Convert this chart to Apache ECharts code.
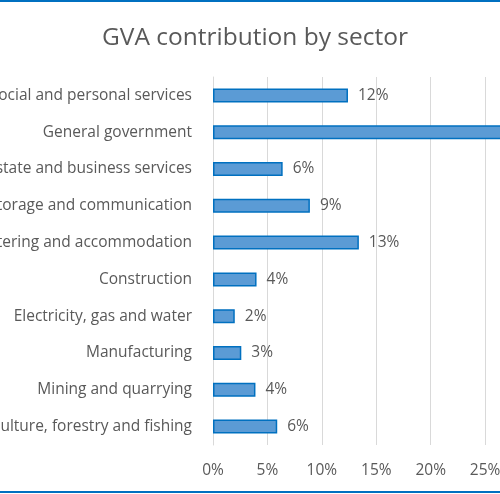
<!DOCTYPE html>
<html>
<head>
<meta charset="utf-8">
<script src="https://cdn.jsdelivr.net/npm/echarts@6/dist/echarts.min.js"></script>
<style>
html,body{margin:0;padding:0;overflow:hidden;background:#fff;width:500px;height:494px;}
#chart{width:600px;height:494px;}
</style>
</head>
<body>
<div id="chart"></div>
<script>
const titleText = 'GVA contribution by sector';
const sectors = [
  'Community, social and personal services',
  'General government',
  'Finance, real estate and business services',
  'Transport, storage and communication',
  'Wholesale and retail trade, catering and accommodation',
  'Construction',
  'Electricity, gas and water',
  'Manufacturing',
  'Mining and quarrying',
  'Agriculture, forestry and fishing'
];
const shares = [12.4, 29.0, 6.4, 8.9, 13.4, 4.0, 2.0, 2.6, 3.9, 5.9];
const tickMin = 0, tickMax = 35, tickStep = 5;

const chart = echarts.init(document.getElementById('chart'), null, {renderer: 'canvas'});
const font = 'Open Sans';
chart.setOption({
  animation: false,
  textStyle: {fontFamily: font},
  title: {
    text: titleText,
    left: 250, top: 21, textAlign: 'center',
    textStyle: {fontFamily: font, fontSize: 24.5, fontWeight: 'normal', color: '#595959'}
  },
  graphic: [
    {type: 'rect', shape: {x: 0, y: 0, width: 600, height: 2}, style: {fill: '#0070C0'}},
    {type: 'rect', shape: {x: 0, y: 491, width: 600, height: 2}, style: {fill: '#0070C0'}}
  ],
  grid: {left: 213, top: 77, bottom: 49, width: 381, containLabel: false, outerBoundsMode: 'none'},
  xAxis: {
    type: 'value', min: tickMin, max: tickMax, interval: tickStep,
    axisLine: {show: false}, axisTick: {show: false},
    splitLine: {lineStyle: {color: '#D9D9D9', width: 1}},
    axisLabel: {formatter: v => v + '%', color: '#595959', fontSize: 15.5, margin: 18, fontFamily: font}
  },
  yAxis: {
    type: 'category', data: sectors, inverse: true,
    axisLine: {lineStyle: {color: '#D9D9D9'}},
    axisTick: {show: false},
    axisLabel: {color: '#595959', fontSize: 15.5, margin: 21, fontFamily: font, padding: [2, 0, 0, 0]}
  },
  series: [{
    type: 'bar', data: shares, barWidth: 14,
    itemStyle: {color: '#5B9BD5', borderColor: '#0070C0', borderWidth: 1.5},
    label: {show: true, position: 'right', distance: 10, color: '#595959', fontSize: 15.5, fontFamily: font,
      padding: [2, 0, 0, 0], formatter: p => Math.round(p.value) + '%'}
  }]
});
</script>
</body>
</html>
